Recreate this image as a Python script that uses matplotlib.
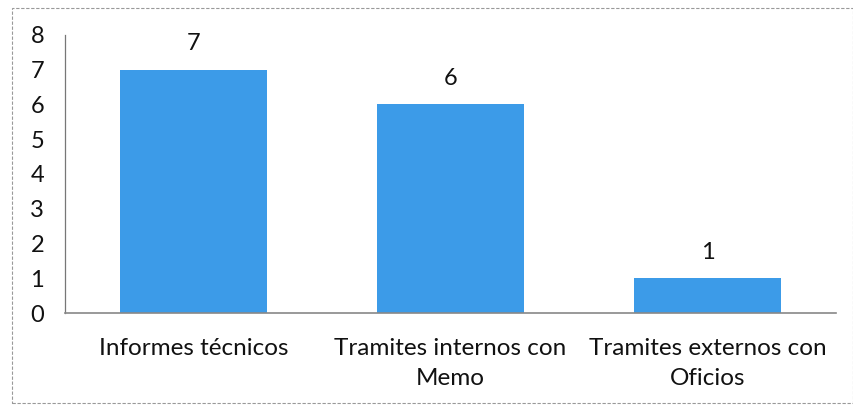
import matplotlib
matplotlib.use("Agg")
import matplotlib.pyplot as plt
from matplotlib.patches import Rectangle

categories = ["Informes técnicos", "Tramites internos con\nMemo", "Tramites externos con\nOficios"]
values = [7, 6, 1]
yticks = [0, 1, 2, 3, 4, 5, 6, 7, 8]

plt.rcParams['font.family'] = ['Lato', 'DejaVu Sans']

fig = plt.figure(figsize=(8.54, 4.05), dpi=100)
ax = fig.add_axes([0.076, 0.227, 0.903, 0.687])

x = list(range(len(categories)))
bars = ax.bar(x, values, width=0.575, color='#3C9BE8')
for xi, v in zip(x, values):
    ax.annotate(str(v), (xi, v), xytext=(0, 11), textcoords='offset points',
                ha='center', va='bottom', fontsize=17, color='#111111')

ax.set_xlim(-0.5, len(categories) - 0.5)
ax.set_ylim(0, 8)
ax.set_yticks(yticks)
ax.set_yticklabels([str(t) for t in yticks], fontsize=17, color='#111111')
ax.set_xticks(x)
ax.set_xticklabels(categories, fontsize=17.5, color='#111111', linespacing=1.5)
ax.tick_params(axis='both', length=0)
ax.tick_params(axis='y', pad=15)
ax.tick_params(axis='x', pad=18)
for s in ['top', 'right']:
    ax.spines[s].set_visible(False)
ax.spines['left'].set_color('#777777')
ax.spines['bottom'].set_color('#888888')
ax.spines['left'].set_linewidth(0.9)
ax.spines['bottom'].set_linewidth(1.2)

border = Rectangle((12/854, 0.005), 1 - 13/854, 1 - 8/405 - 0.005, transform=fig.transFigure,
                   fill=False, edgecolor='#999999', linestyle=(0, (3, 1.5)), linewidth=0.8)
fig.patches.append(border)

fig.savefig('out.png', dpi=100)
